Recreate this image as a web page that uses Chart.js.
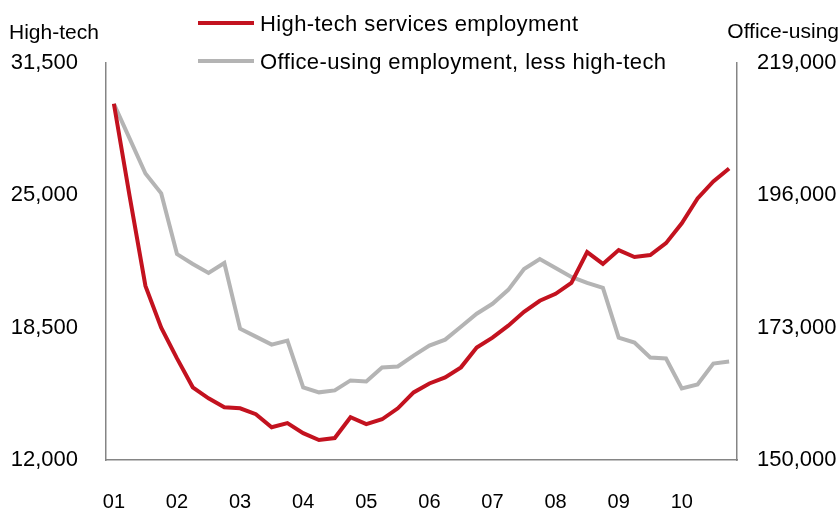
<!DOCTYPE html>
<html>
<head>
<meta charset="utf-8">
<script src="https://cdn.jsdelivr.net/npm/chart.js@4/dist/chart.umd.min.js"></script>
<style>
  html, body { margin: 0; padding: 0; background: #fff; }
  #wrap { width: 840px; height: 512px; }
</style>
</head>
<body>
<div id="wrap"><canvas id="empChart" width="840" height="512"></canvas></div>
<script>
// quarterly data, 2001 Q1 .. 2010 Q4
const quarters = [
  '01Q1','01Q2','01Q3','01Q4','02Q1','02Q2','02Q3','02Q4',
  '03Q1','03Q2','03Q3','03Q4','04Q1','04Q2','04Q3','04Q4',
  '05Q1','05Q2','05Q3','05Q4','06Q1','06Q2','06Q3','06Q4',
  '07Q1','07Q2','07Q3','07Q4','08Q1','08Q2','08Q3','08Q4',
  '09Q1','09Q2','09Q3','09Q4','10Q1','10Q2','10Q3','10Q4'
];
const yearLabels = ['01','02','03','04','05','06','07','08','09','10'];

// High-tech services employment (left axis)
const highTech = [
  29500, 24950, 20550, 18500, 16990, 15570, 15030, 14590, 14540, 14250,
  13610, 13810, 13320, 12980, 13080, 14100, 13760, 14000, 14540, 15320,
  15760, 16060, 16550, 17520, 18010, 18600, 19280, 19820, 20160, 20700,
  22210, 21630, 22310, 21970, 22070, 22650, 23630, 24850, 25680, 26320
];
// Office-using employment, less high-tech (right axis)
const officeUsing = [
  211900, 205850, 199800, 196340, 185790, 184060, 182500, 184230, 172820, 171440,
  170060, 170750, 162620, 161760, 162100, 163830, 163660, 166080, 166250, 168150,
  169880, 170920, 173170, 175420, 177150, 179570, 183200, 184930, 183370, 181810,
  180780, 179910, 171270, 170400, 167810, 167640, 162450, 163140, 166770, 167120
];

const leftTicks  = [12000, 18500, 25000, 31500];
const rightTicks = [150000, 173000, 196000, 219000];

const FONT = "'Liberation Sans', Arial, sans-serif";
const RED  = '#C3121F';
const GREY = '#B4B4B4';
const AXIS = '#858585';

// axis titles + legend drawn by hand (legend is stacked in 2 rows in the original)
const extrasPlugin = {
  id: 'extras',
  afterDraw(chart) {
    const ctx = chart.ctx;
    ctx.save();
    ctx.fillStyle = '#000';
    ctx.font = '21px ' + FONT;
    ctx.textBaseline = 'alphabetic';
    ctx.textAlign = 'left';
    ctx.fillText('High-tech', 9, 39);
    ctx.textAlign = 'right';
    ctx.fillText('Office-using', 839, 38);

    // legend
    ctx.font = '22px ' + FONT;
    ctx.textAlign = 'left';
    ctx.textBaseline = 'alphabetic';
    if ('letterSpacing' in ctx) ctx.letterSpacing = '0.4px';
    const rows = [23, 61];
    chart.data.datasets.forEach((ds, i) => {
      const y = rows[i];
      ctx.strokeStyle = ds.borderColor;
      ctx.lineWidth = 4;
      ctx.beginPath();
      ctx.moveTo(198, y);
      ctx.lineTo(254, y);
      ctx.stroke();
      ctx.fillStyle = '#000';
      ctx.fillText(ds.label, 260, y + 8);
    });
    ctx.restore();
  }
};

new Chart(document.getElementById('empChart'), {
  type: 'line',
  data: {
    labels: quarters,
    datasets: [
      {
        label: 'High-tech services employment',
        data: highTech,
        yAxisID: 'y',
        borderColor: RED,
        borderWidth: 4,
        pointRadius: 0,
        tension: 0,
        fill: false
      },
      {
        label: 'Office-using employment, less high-tech',
        data: officeUsing,
        yAxisID: 'y2',
        borderColor: GREY,
        borderWidth: 4,
        pointRadius: 0,
        tension: 0,
        fill: false
      }
    ]
  },
  options: {
    responsive: false,
    animation: false,
    devicePixelRatio: 1,
    layout: { padding: { top: 63, left: 0, right: 0, bottom: 0 } },
    plugins: {
      legend: { display: false },
      tooltip: { enabled: false }
    },
    scales: {
      x: {
        offset: true,
        grid: { display: false, drawTicks: false },
        border: { display: true, color: AXIS, width: 1.5 },
        ticks: {
          autoSkip: false,
          maxRotation: 0,
          padding: 30,
          color: '#000',
          font: { family: FONT, size: 20 },
          callback: function(val, index) {
            return index % 4 === 0 ? yearLabels[index / 4] : '';
          }
        },
        afterFit: function(scale) { scale.height = 52; }
      },
      y: {
        position: 'left',
        min: 12000,
        max: 31500,
        grid: { display: false, drawTicks: false },
        border: { display: true, color: AXIS, width: 1.5 },
        afterBuildTicks: function(scale) {
          scale.ticks = leftTicks.map(v => ({ value: v }));
        },
        ticks: {
          padding: 28,
          color: '#000',
          font: { family: FONT, size: 22 },
          callback: v => v.toLocaleString('en-US')
        },
        afterFit: function(scale) { scale.width = 106; }
      },
      y2: {
        position: 'right',
        min: 150000,
        max: 219000,
        grid: { display: false, drawTicks: false },
        border: { display: true, color: AXIS, width: 1.5 },
        afterBuildTicks: function(scale) {
          scale.ticks = rightTicks.map(v => ({ value: v }));
        },
        ticks: {
          padding: 20,
          color: '#000',
          font: { family: FONT, size: 22 },
          callback: v => v.toLocaleString('en-US')
        },
        afterFit: function(scale) { scale.width = 103; }
      }
    }
  },
  plugins: [extrasPlugin]
});
</script>
</body>
</html>
